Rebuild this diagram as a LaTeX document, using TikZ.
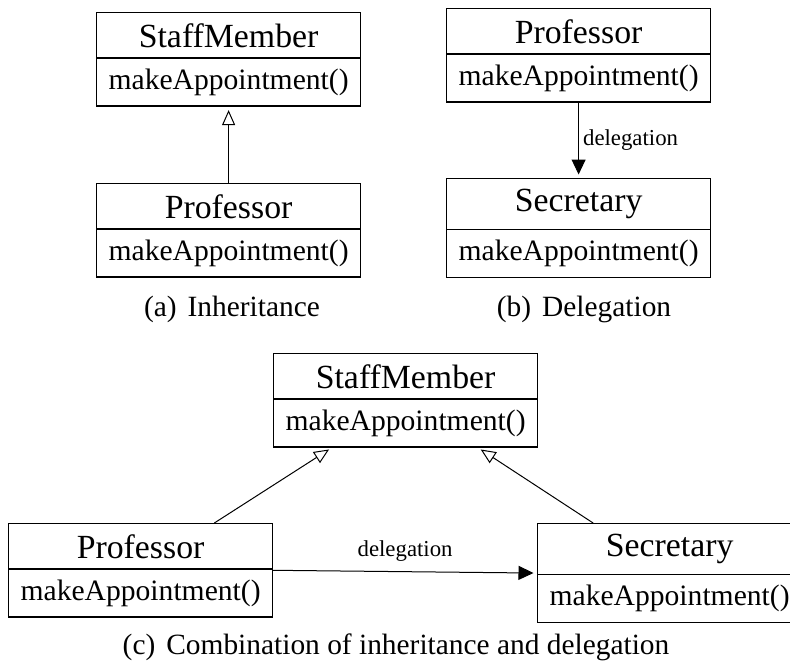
\documentclass[tikz,border=0pt]{standalone}
\usepackage{fontspec}
\setmainfont{Liberation Serif}
\usetikzlibrary{shapes.multipart,arrows.meta}

\newcommand{\clstitle}{\fontsize{33.8}{40}\selectfont}
\newcommand{\clsmethod}{\fontsize{29.6}{35}\selectfont}
\newcommand{\capfont}{\fontsize{29.4}{35}\selectfont}
\newcommand{\relfont}{\fontsize{22.8}{27}\selectfont}

\tikzset{
  umlclass/.style={rectangle split, rectangle split parts=2, draw,
    line width=1.2pt, text width=241pt, align=center,
    inner xsep=11.5pt, inner ysep=10pt, anchor=north west, font=\clsmethod},
  inherits/.style={line width=1pt, shorten >=3.5pt,
    -{Triangle[open, length=15pt, width=13pt, line width=1pt]}},
  delegates/.style={line width=1pt, shorten >=3.5pt,
    -{Triangle[length=15pt, width=14pt]}},
  rellabel/.style={font=\relfont, inner sep=2pt},
  subcap/.style={font=\capfont, anchor=base}
}

\begin{document}
\begin{tikzpicture}[x=1pt, y=-1pt]
  \useasboundingbox (0,0) rectangle (790,670);

  % (a) inheritance
  \node[umlclass] (staffA) at (96,12) {{\clstitle StaffMember}\nodepart{two}makeAppointment()};
  \node[umlclass] (profA) at (96,183) {{\clstitle Professor}\nodepart{two}makeAppointment()};
  \draw[inherits] (profA) -- (staffA);
  \node[subcap] (capA) at (232,316) {(a)\hskip 11pt Inheritance};

  % (b) delegation
  \node[umlclass] (profB) at (446,8) {{\clstitle Professor}\nodepart{two}makeAppointment()};
  \node[umlclass] (secB) at (446,178) {{\clstitle Secretary}\nodepart{two}makeAppointment()};
  \draw[delegates] (profB) -- node[rellabel, right=2pt] {delegation} (secB);
  \node[subcap] (capB) at (584,316) {(b)\hskip 11pt Delegation};

  % (c) inheritance combined with delegation
  \node[umlclass] (staffC) at (273,353) {{\clstitle StaffMember}\nodepart{two}makeAppointment()};
  \node[umlclass] (profC) at (8,523) {{\clstitle Professor}\nodepart{two}makeAppointment()};
  \node[umlclass] (secC) at (537,523) {{\clstitle Secretary}\nodepart{two}makeAppointment()};
  \draw[inherits] (profC) -- (staffC);
  \draw[inherits] (secC) -- (staffC);
  \draw[delegates] (profC.east) -- node[rellabel, above=8pt] {delegation} (secC.west);
  \node[subcap] (capC) at (396,654) {(c)\hskip 11pt Combination of inheritance and delegation};
\end{tikzpicture}
\end{document}
